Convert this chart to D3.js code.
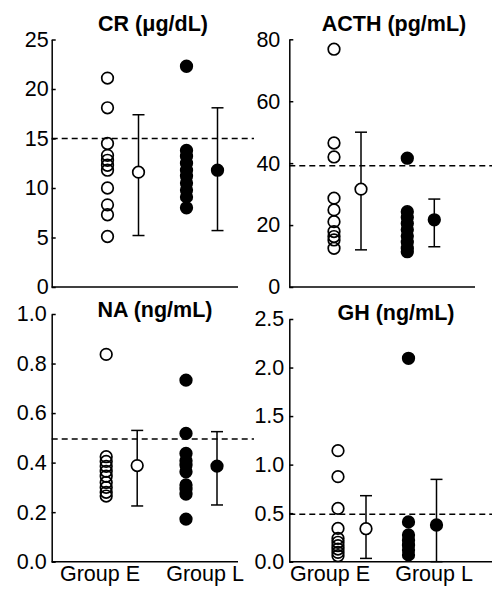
<!DOCTYPE html>
<html>
<head>
<meta charset="utf-8">
<script src="https://cdn.jsdelivr.net/npm/d3@7"></script>
<style>
    body { margin: 0; background: #fff; }
    text { font-family: "Liberation Sans", Arial, sans-serif; fill: #000; }
</style>
</head>
<body>
<svg id="chart" width="492" height="590"></svg>
<script>
// panel settings
const titles = ["CR (μg/dL)", "ACTH (pg/mL)", "NA (ng/mL)", "GH (ng/mL)"];
const groups = ["Group E", "Group L"];
const yMax = [25, 80, 1.0, 2.5];
const yStep = [5, 20, 0.2, 0.5];
const tickFormats = ["d", "d", ".1f", ".1f"];
const cutoffs = [15, 39.2, 0.495, 0.49];

// individual values, one list per panel
const groupE = [
    [21.1, 18.1, 14.5, 13.3, 12.8, 12.3, 11.8, 10.0, 8.3, 7.3, 5.1],
    [76.8, 46.5, 42.0, 28.7, 24.9, 21.1, 17.9, 16.3, 15.2, 12.5],
    [0.837, 0.424, 0.405, 0.385, 0.365, 0.345, 0.32, 0.30, 0.28, 0.265],
    [1.144, 0.876, 0.549, 0.343, 0.24, 0.2, 0.165, 0.13, 0.096, 0.062]
];
const groupL = [
    [22.3, 13.8, 13.2, 12.5, 11.8, 11.2, 10.5, 9.8, 9.1, 8.0],
    [41.6, 24.3, 22.5, 20.5, 18.5, 16.5, 14.5, 12.5, 11.4],
    [0.733, 0.518, 0.437, 0.408, 0.39, 0.363, 0.31, 0.293, 0.273, 0.172],
    [2.095, 0.41, 0.275, 0.22, 0.17, 0.12, 0.07]
];

// summary (mean with error bar)
const meanE = [11.6, 31.6, 0.388, 0.34];
const lowE = [5.2, 12.0, 0.225, 0.034];
const highE = [17.4, 50.0, 0.53, 0.68];
const meanL = [11.8, 21.7, 0.386, 0.378];
const lowL = [5.7, 13.0, 0.229, 0.0];
const highL = [18.1, 28.4, 0.525, 0.848];

// where each panel sits on the page
const layout = [
    {left: 51.7, right: 238, top: 39.5, bottom: 287, groupX: [123, 202], spread: 15.5, pad: 3, lineEnd: 254, titleX: 153, titleY: 31},
    {left: 289.3, right: 475, top: 39.3, bottom: 287, groupX: [347.5, 420.8], spread: 13.5, pad: 9, lineEnd: 492, titleX: 394, titleY: 31},
    {left: 51.7, right: 238, top: 314, bottom: 561.7, groupX: [121.7, 201.5], spread: 15.5, pad: 5, lineEnd: 254, titleX: 155, titleY: 317, labelX: [100, 205]},
    {left: 289.3, right: 492, top: 319, bottom: 561.7, groupX: [352, 422.5], spread: 14, pad: 5, lineEnd: 492, titleX: 396, titleY: 320, labelX: [330, 434]}
];

const radius = 5.8;
const capHalf = 6;
const fontSize = 21.5;
const svg = d3.select('#chart');

layout.forEach((lay, i) => {
    const panel = svg.append('g').attr('class', "panel");

    const y = d3.scaleLinear()
        .domain([0, yMax[i]])
        .range([lay.bottom, lay.top]);
    const x = d3.scaleOrdinal()
        .domain(groups)
        .range(lay.groupX);

    // y axis with inward ticks
    const yAxis = panel.append('g')
        .attr('class', "yaxis")
        .attr('transform', `translate(${lay.left},0)`)
        .call(d3.axisLeft(y)
            .tickValues(d3.range(0, yMax[i] + yStep[i] / 2, yStep[i]))
            .tickFormat(d3.format(tickFormats[i]))
            .tickSizeInner(-4)
            .tickSizeOuter(0)
            .tickPadding(lay.pad));
    yAxis.selectAll('path, line')
        .attr('stroke', "#000")
        .attr('stroke-width', 1.5);
    yAxis.selectAll('text')
        .attr('font-family', "Liberation Sans, Arial, sans-serif")
        .attr('font-size', fontSize);

    // x axis line
    panel.append('line')
        .attr('x1', lay.left)
        .attr('x2', lay.right)
        .attr('y1', y(0))
        .attr('y2', y(0))
        .attr('stroke', "#000")
        .attr('stroke-width', 1.5);

    if (lay.labelX) {
        const xl = d3.scaleOrdinal().domain(groups).range(lay.labelX);
        panel.selectAll('.grouplabel')
            .data(groups)
            .enter()
            .append('text')
            .attr('class', "grouplabel")
            .attr('x', d => xl(d))
            .attr('y', 581)
            .attr('text-anchor', 'middle')
            .attr('font-size', fontSize)
            .text(d => d);
    }

    // title
    panel.append('text')
        .attr('x', lay.titleX)
        .attr('y', lay.titleY)
        .attr('text-anchor', 'middle')
        .attr('font-size', 21.5)
        .attr('font-weight', 'bold')
        .text(titles[i]);

    // reference (dashed) line
    panel.append('line')
        .attr('x1', lay.left)
        .attr('x2', lay.lineEnd)
        .attr('y1', y(cutoffs[i]))
        .attr('y2', y(cutoffs[i]))
        .attr('stroke', "#000")
        .attr('stroke-width', 1.5)
        .attr('stroke-dasharray', "6,4");

    // individual values
    const points = [
        {group: "Group E", values: groupE[i], fill: "none"},
        {group: "Group L", values: groupL[i], fill: "#000"}
    ];
    points.forEach(p => {
        panel.selectAll(null)
            .data(p.values)
            .enter()
            .append('circle')
            .attr('cx', x(p.group) - lay.spread)
            .attr('cy', d => y(d))
            .attr('r', radius)
            .attr('fill', p.fill)
            .attr('stroke', "#000")
            .attr('stroke-width', 1.7);
    });

    // mean and error bars
    const summary = [
        {group: "Group E", mean: meanE[i], low: lowE[i], high: highE[i], fill: "#fff"},
        {group: "Group L", mean: meanL[i], low: lowL[i], high: highL[i], fill: "#000"}
    ];
    const bars = panel.selectAll('.errbar')
        .data(summary)
        .enter()
        .append('g')
        .attr('class', "errbar")
        .attr('transform', d => `translate(${x(d.group) + lay.spread},0)`);
    bars.append('line')
        .attr('y1', d => y(d.low))
        .attr('y2', d => y(d.high))
        .attr('stroke', "#000")
        .attr('stroke-width', 1.5);
    bars.selectAll('.cap')
        .data(d => [d.low, d.high])
        .enter()
        .append('line')
        .attr('class', "cap")
        .attr('x1', -capHalf)
        .attr('x2', capHalf)
        .attr('y1', d => y(d))
        .attr('y2', d => y(d))
        .attr('stroke', "#000")
        .attr('stroke-width', 1.5);
    bars.append('circle')
        .attr('cy', d => y(d.mean))
        .attr('r', radius)
        .attr('fill', d => d.fill)
        .attr('stroke', "#000")
        .attr('stroke-width', 1.7);
});
</script>
</body>
</html>
